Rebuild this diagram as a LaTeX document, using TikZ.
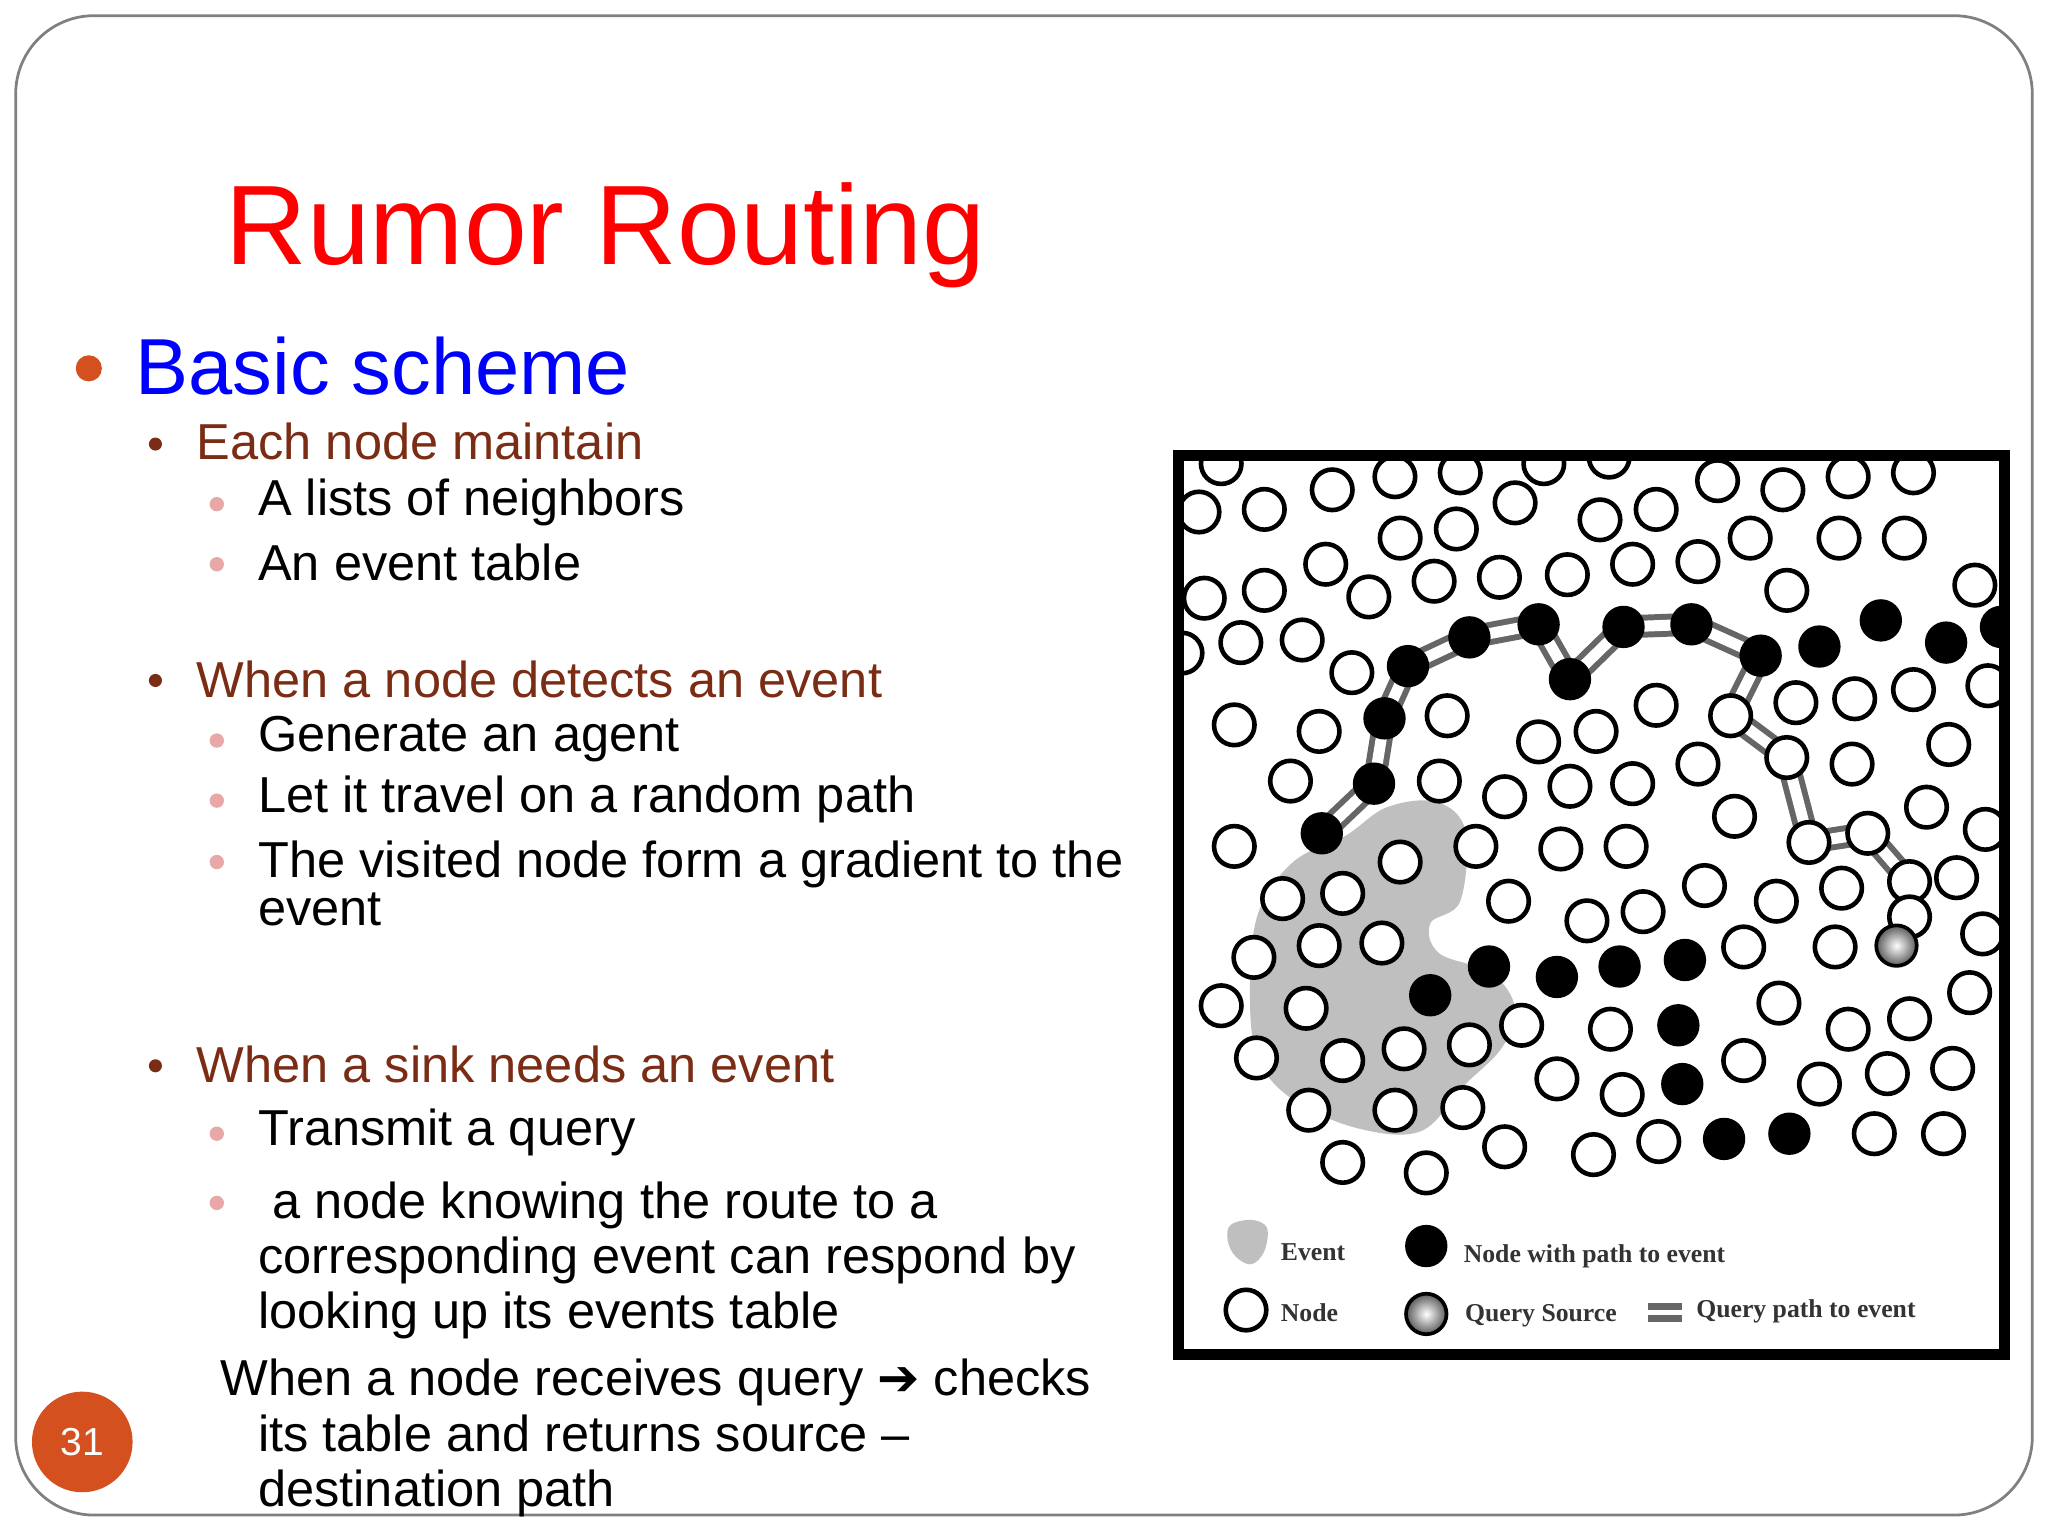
\documentclass[tikz,border=0pt]{standalone}
\usepackage{fontspec}
\setmainfont{Liberation Sans}
\newfontfamily\dejavu{DejaVu Sans}
\newfontfamily\serifb{Liberation Serif}
\begin{document}
\begin{tikzpicture}[x=0.01cm,y=-0.01cm,
  wn/.style={circle,draw=black,line width=1pt,fill=white,minimum size=0.31cm,inner sep=0pt},
  bn/.style={circle,draw=black,fill=black,minimum size=0.31cm,inner sep=0pt},
  qs/.style={circle,draw=black,line width=0.8pt,inner color=white,outer color=gray!70!black,minimum size=0.31cm,inner sep=0pt},
  txt/.style={anchor=west,inner sep=0pt,font=\fontsize{11}{12}\selectfont,align=left},
  lvtwo/.style={txt,text=brown2},
  leg/.style={anchor=west,inner sep=0pt,font=\serifb\bfseries\fontsize{5.6}{6}\selectfont,text=black!80}]
\definecolor{brown2}{HTML}{7B2C14}
\definecolor{pinkb}{HTML}{E8A8A8}
\definecolor{orb}{HTML}{D4501E}
\useasboundingbox (0,0) rectangle (1568,1176);
\fill[white] (0,0) rectangle (1568,1176);
\draw[gray,line width=0.6pt,rounded corners=0.6cm] (12,12) rectangle (1556,1160);
% title
\node[anchor=west,inner sep=0pt,text=red,font=\fontsize{24.6}{28}\selectfont] (title) at (172,180) {Rumor Routing};
\fill[orb] (68,282) circle (10);
\node[anchor=west,inner sep=0pt,text=blue,font=\fontsize{17.3}{20}\selectfont] (basic) at (103,280) {Basic scheme};
\foreach \y in {340,521,816} \fill[brown2] (119,\y) circle (5);
\foreach \y in {386,432,567,613,660,868,921} \fill[pinkb] (166,\y) circle (5.5);
\node[lvtwo] (t1) at (150,338) {Each node maintain};
\node[txt] (t2) at (197,385) {A lists of neighbors};
\node[txt] (t3) at (197,431) {An event table};
\node[lvtwo] (t4) at (150,520) {When a node detects an event};
\node[txt] (t5) at (197,566) {Generate an agent};
\node[txt] (t6) at (197,612) {Let it travel on a random path};
\node[txt,anchor=north west] (t7) at (197,643) {The visited node form a gradient to the\\[-1.5pt]event};
\node[lvtwo] (t8) at (150,815) {When a sink needs an event};
\node[txt] (t9) at (197,867) {Transmit a query};
\node[txt,anchor=north west] (t10) at (197,904) {\ a node knowing the route to a\\corresponding event can respond by\\looking up its events table};
\node[txt,anchor=north west] (t11) at (168,1040) {When a node receives query {\dejavu\bfseries ➔} checks\\\hspace*{0.29cm}its table and returns source –\\\hspace*{0.29cm}destination path};
% page number
\node[circle,fill=orb,minimum size=0.77cm,inner sep=0pt,text=white,font=\fontsize{8.5}{10}\selectfont] (pg) at (63,1104) {31};
% figure
\begin{scope}
\clip (903,351) rectangle (1533,1035);
\fill[white] (903,351) rectangle (1533,1035);
\fill[black!25] plot[smooth cycle,tension=0.6] coordinates {(1030,640) (1062,618) (1100,614) (1122,636) (1118,690) (1095,707) (1102,730) (1142,745) (1160,772) (1150,802) (1120,832) (1088,866) (1040,864) (990,842) (963,810) (957,760) (963,700) (990,660)};
% query path
\foreach \lw/\c in {5pt/black!60,2.4pt/white} \draw[line width=\lw,\c,line join=round]
 (1012,638) -- (1052,600) -- (1060,550) -- (1078,510) -- (1125,488) -- (1178,478) -- (1202,520) -- (1243,480) -- (1295,478) -- (1348,502) -- (1325,548) -- (1368,580) -- (1385,645) -- (1430,638) -- (1462,675) -- (1462,702) -- (1452,724);
\foreach \p [count=\i] in {(935,355),(1020,375),(1068,365),(1118,362),(1182,355),(1232,350),(1315,368),(1365,375),(1415,365),(1465,362),
(918,392),(968,390),(1160,385),(1225,398),(1268,390),(1340,412),(1408,412),(1458,412),(1072,412),(1115,405),
(922,458),(968,452),(1015,432),(1048,457),(1098,445),(1148,442),(1200,440),(1250,432),(1300,430),(1368,452),(1512,448),
(950,492),(997,490),(1035,515),(1522,525),(905,500),
(945,555),(1010,560),(1108,548),(1178,568),(1222,560),(1268,540),(1325,548),(1375,538),(1420,535),(1465,528),
(988,598),(1102,598),(1152,610),(1202,602),(1250,600),(1300,585),(1368,580),(1418,585),(1492,570),
(945,648),(1072,660),(1130,648),(1195,650),(1245,648),(1328,625),(1385,645),(1430,638),(1475,618),(1520,635),
(982,688),(1028,684),(1155,690),(1215,705),(1258,698),(1305,678),(1360,690),(1410,680),(1462,675),(1498,672),(1462,702),
(960,733),(1010,724),(1058,722),(1335,725),(1405,725),(1518,715),
(935,770),(1000,772),(1165,785),(1233,788),(1362,768),(1415,788),(1462,780),(1508,760),
(962,810),(1028,812),(1075,803),(1125,800),(1192,826),(1242,838),(1335,812),(1393,830),(1445,822),(1495,818),
(1002,850),(1068,850),(1120,848),(1152,878),(1220,884),(1270,874),(1435,868),(1488,868),
(1028,890),(1092,898)}
  \node[wn] (w\i) at \p {};
\foreach \p [count=\i] in {(1012,638),(1052,600),(1060,550),(1078,510),(1125,488),(1178,478),(1202,520),(1243,480),(1295,478),(1348,502),(1393,495),(1440,475),(1490,492),(1532,480),
(1095,762),(1140,740),(1192,748),(1240,740),(1290,735),(1285,785),(1288,830),(1320,872),(1370,868)}
  \node[bn] (b\i) at \p {};
\node[qs] (q) at (1452,724) {};
% legend
\fill[black!25] plot[smooth cycle,tension=0.6] coordinates {(942,938) (958,934) (970,940) (968,958) (958,968) (946,962) (940,950)};
\node[leg] (le1) at (980,959) {Event};
\node[bn] (lb) at (1092,954) {};
\node[leg] (le2) at (1120,962) {Node with path to event};
\node[wn] (lw) at (954,1003) {};
\node[leg] (le3) at (980,1005) {Node};
\node[qs] (lq) at (1092,1006) {};
\node[leg] (le4) at (1121,1007) {Query Source};
\coordinate (pa) at (1262,1005); \coordinate (pb) at (1288,1005);
\draw[line width=1.6pt,black!60,double=white,double distance=1pt] (pa) -- (pb);
\node[leg] (le5) at (1298,1004) {Query path to event};
\end{scope}
\draw[line width=2.4pt] (902,349) rectangle (1535,1037);
\end{tikzpicture}
\end{document}
